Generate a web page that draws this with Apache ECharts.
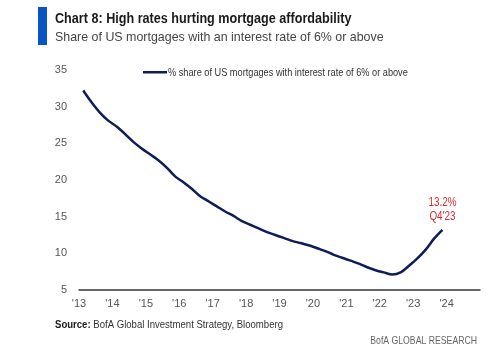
<!DOCTYPE html>
<html>
<head>
<meta charset="utf-8">
<style>html,body{margin:0;padding:0;background:#fff}#c{width:500px;height:360px}</style>
<script src="https://cdn.jsdelivr.net/npm/echarts@6/dist/echarts.min.js"></script>
</head>
<body>
<div id="c"></div>
<script>
var quarters = ["2013Q1","2013Q2","2013Q3","2013Q4","2014Q1","2014Q2","2014Q3","2014Q4",
"2015Q1","2015Q2","2015Q3","2015Q4","2016Q1","2016Q2","2016Q3","2016Q4",
"2017Q1","2017Q2","2017Q3","2017Q4","2018Q1","2018Q2","2018Q3","2018Q4",
"2019Q1","2019Q2","2019Q3","2019Q4","2020Q1","2020Q2","2020Q3","2020Q4",
"2021Q1","2021Q2","2021Q3","2021Q4","2022Q1","2022Q2","2022Q3","2022Q4",
"2023Q1","2023Q2","2023Q3","2023Q4"];
var shareValues = [32.2,30.6,29.2,28.1,27.3,26.3,25.2,24.3,
23.5,22.7,21.7,20.5,19.7,18.8,17.8,17.1,
16.4,15.7,15.1,14.4,13.9,13.4,12.9,12.5,
12.1,11.7,11.4,11.1,10.7,10.3,9.8,9.4,
9.0,8.6,8.1,7.7,7.4,7.1,7.4,8.3,
9.3,10.5,12.0,13.2];
var yTicks = [5,10,15,20,25,30,35];
var xYears = [2013,2014,2015,2016,2017,2018,2019,2020,2021,2022,2023,2024];
var seriesName = "% share of US mortgages with interest rate of 6% or above";
var annotation = "13.2%\nQ4'23";
var titleText = 'Chart 8: High rates hurting mortgage affordability';
var subtitleText = 'Share of US mortgages with an interest rate of 6% or above';

var FONT = '"Liberation Sans",Arial,sans-serif';
var LINE = '#0c1d57';
var pts = quarters.map(function(q,i){
  var y = parseInt(q.slice(0,4),10), k = parseInt(q.slice(5),10);
  return [y + (k-0.5)/4, shareValues[i]];
});
var chart = echarts.init(document.getElementById('c'), null, {renderer:'canvas'});
chart.setOption({
  animation:false,
  backgroundColor:'#fff',
  textStyle:{fontFamily:FONT},
  grid:{left:79,right:20,top:70,bottom:70},
  xAxis:{
    type:'value', min:2013, max:2025, interval:1,
    axisLine:{show:true,lineStyle:{color:'#333',width:1.5}},
    axisTick:{show:false}, splitLine:{show:false},
    axisLabel:{color:'#555',fontSize:11,fontFamily:FONT,margin:8,
      formatter:function(v){return xYears.indexOf(v)>=0 ? "'"+String(v).slice(2) : '';}}
  },
  yAxis:{
    type:'value', min:yTicks[0], max:yTicks[yTicks.length-1], interval:5,
    axisLine:{show:false}, axisTick:{show:false}, splitLine:{show:false},
    axisLabel:{color:'#555',fontSize:11,fontFamily:FONT,margin:12}
  },
  series:[{
    name:seriesName, type:'line', data:pts, smooth:0.3, symbol:'none',
    lineStyle:{color:LINE,width:2.5}, itemStyle:{color:LINE}
  }]
});
var last = chart.convertToPixel({xAxisIndex:0,yAxisIndex:0}, pts[pts.length-1]);
chart.setOption({
  graphic:[
    {type:'rect',shape:{x:38,y:7,width:9,height:38},style:{fill:'#0a55c5'}},
    {type:'text',x:55,y:18.5,scaleX:0.87,style:{text:titleText,font:'bold 14.5px '+FONT,fill:'#1a1a1a',textVerticalAlign:'middle'}},
    {type:'text',x:55,y:37.5,scaleX:0.92,style:{text:subtitleText,font:'13.5px '+FONT,fill:'#444',textVerticalAlign:'middle'}},
    {type:'rect',shape:{x:143,y:71,width:24,height:2.5},style:{fill:LINE}},
    {type:'text',x:168,y:72.5,scaleX:0.8,style:{text:seriesName,font:'11.5px '+FONT,fill:'#333',textVerticalAlign:'middle'}},
    {type:'text',x:55,y:325,scaleX:0.832,style:{
      text:'{b|Source:} BofA Global Investment Strategy, Bloomberg',
      rich:{b:{fontWeight:'bold',fontFamily:FONT,fontSize:11.5,fill:'#1a1a1a'}},
      font:'11.5px '+FONT, fill:'#333', textVerticalAlign:'middle'}},
    {type:'text',x:477,y:341,scaleX:0.79,style:{text:'BofA GLOBAL RESEARCH',font:'11px '+FONT,fill:'#666',textAlign:'right',textVerticalAlign:'middle'}},
    {type:'text',x:last[0],y:last[1]-7,scaleX:0.76,style:{text:annotation,font:'13px '+FONT,lineHeight:13.5,fill:'#dd2a2f',textAlign:'center',textVerticalAlign:'bottom'}}
  ]
});
</script>
</body>
</html>
